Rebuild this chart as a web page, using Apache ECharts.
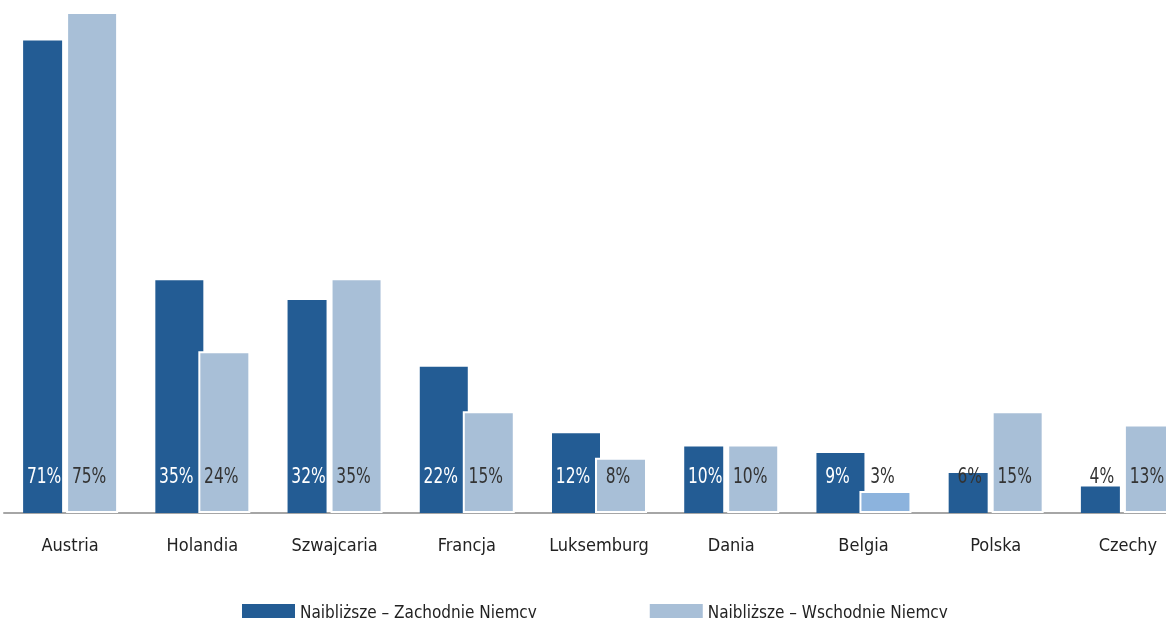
<!DOCTYPE html>
<html>
<head>
<meta charset="utf-8">
<script src="https://cdn.jsdelivr.net/npm/echarts@6/dist/echarts.min.js"></script>
<style>
  html, body { margin: 0; padding: 0; background: #fff; }
  #chart { width: 1166px; height: 618px; }
</style>
</head>
<body>
<div id="chart"></div>
<script>
const categories = ['Austria', 'Holandia', 'Szwajcaria', 'Francja', 'Luksemburg', 'Dania', 'Belgia', 'Polska', 'Czechy'];
const westValues = [71, 35, 32, 22, 12, 10, 9, 6, 4];
const eastValues = [75, 24, 35, 15, 8, 10, 3, 15, 13];
const seriesNames = ['Najbliższe – Zachodnie Niemcy', 'Najbliższe – Wschodnie Niemcy'];

const FONT = '"DejaVu Sans Condensed", "DejaVu Sans", sans-serif';
const DARK = '#235c94';
const LIGHT = '#a8bfd7';
const LIGHT_ALT = '#8cb3dd'; // Belgia bar has a slightly different tone

const chart = echarts.init(document.getElementById('chart'));

function valueText(x, y, v, color) {
    return {
        type: 'text',
        x: x, y: y, scaleX: 0.82,
        style: {
            text: v + '%', fill: color,
            font: '21px ' + FONT, align: 'center', verticalAlign: 'middle'
        }
    };
}

function darkBar(params, api) {
    const i = api.value(0), v = api.value(1), other = api.value(2);
    const base = api.coord([i, 0]);
    const top = api.coord([i, v]);
    const left = base[0] - 47;
    const w = v > other ? 48 : 39;
    return {
        type: 'group',
        children: [{
            type: 'rect',
            shape: { x: left, y: top[1], width: w, height: base[1] - top[1] },
            style: { fill: DARK }
        }, valueText(base[0] - 26, base[1] - 35, v, v >= 8 ? '#fff' : '#333')]
    };
}

function lightBar(params, api) {
    const i = api.value(0), v = api.value(1);
    const base = api.coord([i, 0]);
    const top = api.coord([i, v]);
    return {
        type: 'group',
        children: [{
            type: 'rect',
            shape: { x: base[0] - 3, y: top[1] - 1, width: 50, height: base[1] - top[1] },
            style: { fill: categories[i] === 'Belgia' ? LIGHT_ALT : LIGHT, stroke: '#fff', lineWidth: 2 }
        }, valueText(base[0] + 19, base[1] - 35, v, '#333')]
    };
}

chart.setOption({
    animation: false,
    grid: { left: 4, width: 1190, top: 14, bottom: 105, outerBoundsMode: 'none', containLabel: false },
    legend: {
        data: seriesNames,
        left: 237, top: 599,
        icon: 'rect', itemWidth: 53, itemHeight: 19, itemGap: 113,
        textStyle: { fontFamily: FONT, fontSize: 17, color: '#222' }
    },
    xAxis: {
        type: 'category',
        data: categories,
        axisLine: { lineStyle: { color: '#a6a6a6', width: 2 } },
        axisTick: { show: false },
        axisLabel: { interval: 0, fontFamily: FONT, fontSize: 18, color: '#222', margin: 24 }
    },
    yAxis: { type: 'value', min: 0, max: 75, show: false, splitLine: { show: false } },
    series: [{
        name: seriesNames[0],
        type: 'custom',
        renderItem: darkBar,
        itemStyle: { color: DARK },
        data: categories.map((c, i) => [i, westValues[i], eastValues[i]])
    }, {
        name: seriesNames[1],
        type: 'custom',
        renderItem: lightBar,
        itemStyle: { color: LIGHT },
        data: categories.map((c, i) => [i, eastValues[i], westValues[i]])
    }]
});
</script>
</body>
</html>
